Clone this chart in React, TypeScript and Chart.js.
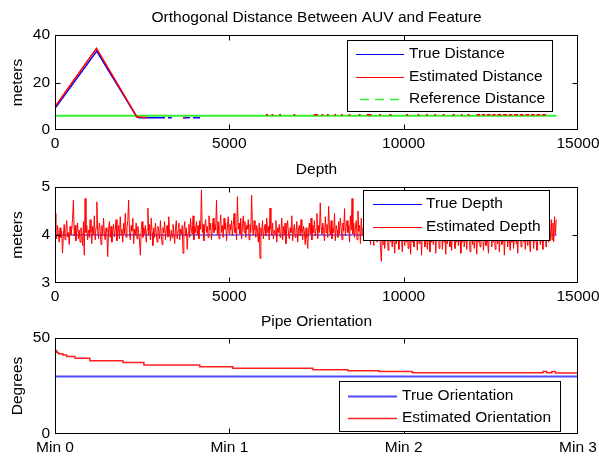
import React, { useEffect, useRef } from "react";
import { Chart, registerables } from "chart.js";

Chart.register(...registerables);

const FONT = '"Liberation Sans", Arial, Helvetica, sans-serif';
const FS = 15.5;

// ---------- Orthogonal Distance Between AUV and Feature ----------
const distanceXTicks = [0, 5000, 10000, 15000];
const distanceYTicks = [0, 20, 40];

const trueDistanceX = [0, 300, 600, 900, 1196, 1500, 1800, 2100, 2343, 2400, 3155, 3200, 3240, 3350, 3400, 3670, 3870, 3900, 3960, 4160];
const trueDistanceY = [9.1, 15.1, 21.2, 27.2, 33.2, 25.9, 18.7, 11.4, 5.6, 5.2, 5.2, null, 5.2, 5.2, null, 5.2, 5.2, null, 5.2, 5.2];

const estDistanceX = [
  0, 300, 600, 900, 1190, 1500, 1800, 2100, 2343, 2630, 2640,
  3670, 3740, 3750,
  6050, 6110, 6120,
  6210, 6260, 6270,
  6430, 6480, 6490,
  6840, 6890, 6900,
  7420, 7540, 7550,
  7640, 7690, 7700,
  7800, 7850, 7860,
  8010, 8060, 8070,
  8200, 8250, 8260,
  8420, 8470, 8480,
  8710, 8760, 8770,
  8940, 9080, 9090,
  9300, 9350, 9360,
  9590, 9650, 9660,
  10070, 10130, 10140,
  10400, 10450, 10460,
  10640, 10690, 10700,
  10880, 10930, 10940,
  11120, 11170, 11180,
  11400, 11460, 11470,
  11640, 11690, 11700,
  11830, 11890, 11900,
  12090, 12190, 12200,
  12240, 12340, 12350,
  12390, 12490, 12500,
  12540, 12640, 12650,
  12690, 12800, 12810,
  12850, 12960, 12970,
  13010, 13120, 13130,
  13170, 13280, 13290,
  13330, 13440, 13450,
  13490, 13600, 13610,
  13650, 13760, 13770,
  13810, 13920, 13930,
  13970, 14080, 14090,
  14130, 14240, 14250,
  14280, 14380,
];
const estDistanceY = [
  9.8, 16.0, 22.2, 28.4, 34.4, 26.7, 19.2, 11.7, 5.6, 5.2, null,
  5.2, 5.2, null,
  6.4, 6.4, null,
  6.4, 6.4, null,
  6.4, 6.4, null,
  6.4, 6.4, null,
  6.4, 6.4, null,
  6.4, 6.4, null,
  6.4, 6.4, null,
  6.4, 6.4, null,
  6.4, 6.4, null,
  6.4, 6.4, null,
  6.4, 6.4, null,
  6.4, 6.4, null,
  6.4, 6.4, null,
  6.4, 6.4, null,
  6.4, 6.4, null,
  6.4, 6.4, null,
  6.4, 6.4, null,
  6.4, 6.4, null,
  6.4, 6.4, null,
  6.4, 6.4, null,
  6.4, 6.4, null,
  6.4, 6.4, null,
  6.4, 6.4, null,
  6.4, 6.4, null,
  6.4, 6.4, null,
  6.4, 6.4, null,
  6.4, 6.4, null,
  6.4, 6.4, null,
  6.4, 6.4, null,
  6.4, 6.4, null,
  6.4, 6.4, null,
  6.4, 6.4, null,
  6.4, 6.4, null,
  6.4, 6.4, null,
  6.4, 6.4,
];

const refDistanceX = [0, 14385];
const refDistanceY = [6, 6];

// ---------- Depth ----------
const depthXTicks = [0, 5000, 10000, 15000];
const depthYTicks = [3, 4, 5];
const depthSampleStep = 24;
const trueDepthX = [0, 14385];
const trueDepthY = [4, 4];
const estDepthY = [
  4.45, 4.1, 3.92, 4.2, 4.02, 3.85, 4.15, 3.95, 4.08, 3.62,
  4.0, 4.22, 3.9, 4.1, 4.3, 3.96, 4.05, 3.8, 4.18, 4.0,
  4.12, 4.35, 4.73, 3.98, 4.2, 3.88, 4.08, 4.25, 3.92, 4.1,
  3.85, 4.15, 4.02, 3.78, 4.28, 3.58, 4.76, 4.05, 4.2, 3.9,
  4.1, 3.95, 4.32, 4.05, 3.82, 4.18, 4.0, 4.4, 3.9, 4.15,
  4.69, 4.08, 3.92, 4.25, 4.1, 3.8, 4.2, 3.98, 4.35, 4.02,
  3.9, 4.15, 4.05, 3.55, 4.12, 4.28, 3.95, 4.18, 3.85, 4.08,
  4.22, 3.96, 4.1, 4.32, 3.88, 4.05, 4.2, 3.92, 4.38, 4.0,
  4.12, 3.85, 4.25, 4.02, 4.45, 3.95, 4.15, 4.3, 4.73, 4.05,
  3.9, 4.2, 4.08, 4.35, 3.82, 4.12, 4.0, 4.25, 3.92, 4.18,
  4.05, 3.88, 3.58, 4.1, 4.28, 3.95, 4.15, 4.02, 4.2, 3.85,
  4.12, 4.56, 4.0, 4.22, 3.9, 4.35, 4.05, 3.78, 4.15, 3.95,
  4.25, 4.02, 3.85, 4.18, 4.08, 3.92, 4.3, 4.0, 3.8, 4.15,
  4.05, 4.28, 3.9, 4.12, 4.2, 3.96, 4.38, 4.02, 3.88, 4.1,
  3.95, 4.22, 4.05, 3.82, 4.15, 4.3, 3.92, 4.08, 4.25, 3.9,
  4.12, 4.02, 4.2, 3.62, 4.1, 4.28, 3.98, 4.15, 3.7, 4.05,
  4.22, 3.95, 4.35, 4.1, 4.02, 4.4, 3.9, 4.18, 4.05, 4.28,
  4.0, 4.2, 3.92, 4.3, 4.12, 4.94, 4.05, 4.22, 3.88, 4.15,
  4.32, 4.05, 4.18, 3.95, 4.4, 4.1, 4.25, 3.9, 4.15, 4.35,
  4.05, 4.22, 4.1, 4.73, 4.0, 4.28, 3.92, 4.18, 4.42, 4.05,
  4.2, 3.95, 4.35, 4.12, 4.25, 3.88, 4.15, 4.38, 4.02, 4.22,
  4.1, 4.3, 3.98, 4.2, 4.45, 4.05, 4.15, 3.9, 4.8, 4.12,
  4.25, 4.02, 4.35, 3.92, 4.18, 4.4, 4.05, 4.28, 3.95, 4.2,
  4.12, 4.32, 3.9, 4.22, 4.05, 4.83, 4.15, 4.0, 4.3, 4.1,
  3.95, 4.2, 4.08, 3.85, 4.25, 3.51, 4.15, 4.02, 4.3, 3.92,
  4.1, 4.22, 3.98, 4.35, 4.05, 4.18, 3.9, 4.56, 4.12, 4.0,
  4.25, 3.92, 4.1, 4.02, 4.3, 3.85, 4.15, 4.05, 4.22, 3.95,
  4.08, 4.35, 3.9, 4.18, 4.0, 4.25, 3.82, 4.12, 4.3, 4.02,
  3.92, 4.15, 4.05, 4.4, 3.88, 4.1, 4.22, 3.95, 4.05, 4.28,
  3.85, 4.12, 4.2, 3.98, 4.32, 4.05, 3.9, 4.18, 4.08, 3.8,
  4.15, 3.95, 3.72, 4.1, 4.25, 4.02, 4.35, 3.9, 4.2, 4.05,
  4.3, 3.98, 4.12, 4.45, 3.92, 4.2, 4.05, 4.67, 4.15, 4.02,
  4.25, 4.1, 3.88, 4.38, 4.05, 4.22, 3.95, 4.6, 4.12, 4.0,
  4.3, 3.92, 4.15, 4.05, 4.45, 3.88, 4.2, 4.1, 3.95, 4.28,
  4.02, 4.35, 4.15, 3.9, 4.25, 4.08, 4.55, 3.98, 4.18, 4.3,
  4.05, 4.2, 3.85, 4.4, 4.1, 4.76, 4.02, 4.25, 3.95, 4.15,
  4.3, 3.9, 4.5, 4.08, 4.2, 3.82, 4.35, 4.0, 4.15, 3.95,
  4.22, 4.05, 3.88, 4.3, 4.1, 3.92, 4.18, 3.8, 4.12, 4.0,
  4.1, 3.78, 4.22, 3.95, 4.05, 3.85, 4.18, 3.88, 4.1, 3.7,
  3.45, 4.0, 3.8, 4.15, 3.72, 4.05, 3.9, 4.2, 3.68, 3.95,
  4.1, 3.85, 4.02, 3.75, 4.12, 3.9, 3.62, 4.05, 3.82, 4.15,
  3.95, 3.7, 4.08, 3.88, 4.0, 3.65, 4.1, 3.92, 3.78, 4.05,
  3.85, 4.12, 3.72, 3.95, 4.02, 3.6, 4.15, 3.85, 3.98, 3.75,
  4.08, 3.9, 4.05, 3.68, 4.1, 3.82, 3.95, 4.12, 3.58, 4.0,
  3.88, 4.15, 3.75, 3.98, 4.05, 3.7, 4.1, 3.9, 3.65, 4.02,
  3.85, 4.08, 3.8, 3.95, 4.12, 3.62, 4.0, 3.88, 4.15, 3.72,
  3.98, 3.92, 4.05, 3.7, 4.1, 3.85, 3.98, 3.6, 4.08, 3.82,
  4.0, 4.12, 3.75, 3.95, 3.68, 4.05, 3.88, 4.1, 3.72, 3.98,
  3.85, 4.05, 3.78, 4.15, 3.9, 3.62, 4.02, 3.85, 4.1, 3.75,
  3.95, 4.08, 3.7, 4.0, 3.88, 4.12, 3.65, 3.98, 4.05, 3.8,
  4.1, 3.72, 3.95, 4.02, 3.6, 4.08, 3.85, 3.98, 3.75, 4.12,
  3.88, 4.05, 3.68, 3.95, 4.1, 3.78, 4.02, 3.85, 3.62, 4.08,
  3.92, 4.15, 3.75, 4.0, 3.85, 4.1, 3.7, 3.95, 4.05, 3.82,
  4.12, 3.65, 3.98, 4.05, 3.8, 3.92, 4.1, 3.58, 4.0, 3.88,
  4.05, 3.75, 4.12, 3.9, 3.68, 4.02, 3.85, 4.1, 3.72, 3.95,
  4.08, 3.82, 3.98, 3.62, 4.05, 3.9, 4.15, 3.75, 3.95, 4.02,
  3.85, 4.1, 3.7, 4.0, 3.92, 3.78, 4.12, 3.88, 3.65, 4.05,
  3.95, 4.08, 3.72, 3.98, 4.1, 3.85, 3.68, 4.02, 3.9, 4.12,
  3.8, 4.05, 3.95, 3.7, 4.1, 3.88, 4.0, 3.75, 4.15, 3.92,
  3.85, 4.2, 3.88, 4.32, 3.9, 4.25, 3.86, 4.38, 4.0, 4.32,
];

// ---------- Pipe Orientation ----------
const orientXTicks = [0, 1, 2, 3];
const orientTickLabels = ["Min 0", "Min 1", "Min 2", "Min 3"];
const orientYTicks = [0, 50];
const trueOrientX = [0, 3];
const trueOrientY = [30, 30];
const estOrientX = [0, 0.01, 0.02, 0.045, 0.067, 0.115, 0.2, 0.39, 0.51, 0.83, 1.02, 1.48, 1.68, 1.86, 2.05, 2.8, 2.82, 2.85, 2.87, 2.92, 3.0];
const estOrientY = [44.6, 43.5, 42.4, 41.8, 41.1, 40.3, 39.4, 38.1, 37.3, 35.9, 35.0, 34.2, 33.5, 33.0, 32.5, 31.9, 32.5, 31.9, 32.5, 31.8, 31.8];

const pts = (xs: number[], ys: (number | null)[]) => xs.map((x, i) => ({ x, y: ys[i] }));

const matlabAxesPlugin = {
  id: "matlabAxes",
  afterDraw(chart: any, _args: any, opts: any) {
    const { ctx, chartArea: a, scales } = chart;
    const xs = scales.x;
    const ys = scales.y;
    ctx.save();
    ctx.setLineDash([]);
    ctx.strokeStyle = "#000";
    ctx.lineWidth = 1;
    const L = a.left + 0.5, R = a.right - 0.5, T = a.top + 0.5, B = a.bottom - 0.5;
    ctx.beginPath();
    xs.ticks.forEach((t: any) => {
      const p = Math.round(xs.getPixelForValue(t.value)) + 0.5;
      if (p > L + 1 && p < R - 1) {
        ctx.moveTo(p, B);
        ctx.lineTo(p, B - 5);
        ctx.moveTo(p, T);
        ctx.lineTo(p, T + 5);
      }
    });
    ys.ticks.forEach((t: any) => {
      const p = Math.round(ys.getPixelForValue(t.value)) + 0.5;
      if (p > T + 1 && p < B - 1) {
        ctx.moveTo(L, p);
        ctx.lineTo(L + 5, p);
        ctx.moveTo(R, p);
        ctx.lineTo(R - 5, p);
      }
    });
    ctx.stroke();
    ctx.strokeRect(L, T, R - L, B - T);

    const lg = opts && opts.legend;
    if (lg) {
      const [x1, y1, x2, y2] = lg.box;
      ctx.fillStyle = "#fff";
      ctx.fillRect(x1, y1, x2 - x1, y2 - y1);
      ctx.strokeStyle = "#000";
      ctx.lineWidth = 1;
      ctx.strokeRect(x1 + 0.5, y1 + 0.5, x2 - x1 - 1, y2 - y1 - 1);
      ctx.font = `${FS}px ${FONT}`;
      ctx.textBaseline = "middle";
      ctx.textAlign = "left";
      lg.items.forEach((it: any, i: number) => {
        const ds = chart.data.datasets[it.dataset];
        const y = lg.rows[i];
        ctx.strokeStyle = it.color || ds.borderColor;
        ctx.lineWidth = it.width || 1;
        ctx.setLineDash(it.dash || []);
        ctx.beginPath();
        ctx.moveTo(it.x1 != null ? it.x1 : lg.lineX[0], y + 0.5);
        ctx.lineTo(lg.lineX[1], y + 0.5);
        ctx.stroke();
        ctx.setLineDash([]);
        ctx.fillStyle = "#000";
        ctx.fillText(ds.label, lg.textX, y);
      });
    }
    ctx.restore();
  },
};

function buildConfig(o: any) {
  const tickFont = { family: FONT, size: FS };
  return {
    type: "line",
    data: { datasets: o.datasets },
    options: {
      responsive: false,
      animation: false,
      devicePixelRatio: 1,
      layout: { padding: { left: 0, right: 21, top: 0, bottom: 0 } },
      elements: { point: { radius: 0 }, line: { tension: 0 } },
      plugins: {
        legend: { display: false },
        tooltip: { enabled: false },
        title: {
          display: true,
          text: o.title,
          color: "#000",
          font: { family: FONT, size: FS, weight: "normal", lineHeight: 1.2 },
          padding: o.titlePad,
          fullSize: false,
        },
        matlabAxes: { legend: o.legend },
      },
      scales: {
        x: {
          type: "linear",
          min: o.xMin,
          max: o.xMax,
          afterBuildTicks: (s: any) => {
            s.ticks = o.xTicks.map((v: number) => ({ value: v }));
          },
          ticks: {
            color: "#000",
            font: tickFont,
            padding: 4,
            maxRotation: 0,
            autoSkip: false,
            callback: o.xFormat,
          },
          grid: { display: false, drawTicks: false },
          border: { display: false },
          afterFit: (s: any) => {
            s.height = o.xAxisHeight;
            s.paddingLeft = 0;
            s.paddingRight = 0;
          },
        },
        y: {
          type: "linear",
          min: o.yMin,
          max: o.yMax,
          afterBuildTicks: (s: any) => {
            s.ticks = o.yTicks.map((v: number) => ({ value: v }));
          },
          ticks: {
            color: "#000",
            font: tickFont,
            padding: 5,
            autoSkip: false,
            callback: (v: number) => String(v),
          },
          title: {
            display: true,
            text: o.yTitle,
            color: "#000",
            font: { family: FONT, size: FS, lineHeight: 1.2 },
            padding: { top: 8, bottom: 0 },
          },
          grid: { display: false, drawTicks: false },
          border: { display: false },
          afterFit: (s: any) => {
            s.width = 55;
            s.paddingTop = 0;
            s.paddingBottom = 0;
          },
        },
      },
    },
    plugins: [matlabAxesPlugin],
  };
}

function MatlabChart({ top, height, config }: { top: number; height: number; config: any }) {
  const ref = useRef<HTMLCanvasElement>(null);
  useEffect(() => {
    const chart = new Chart(ref.current as HTMLCanvasElement, config);
    return () => chart.destroy();
  }, []);
  return (
    <canvas
      ref={ref}
      width={599}
      height={height}
      style={{ position: "absolute", left: 0, top, width: 599, height, display: "block" }}
    />
  );
}

const distanceConfig = buildConfig({
  title: "Orthogonal Distance Between AUV and Feature",
  titlePad: { top: 8, bottom: 8.4 },
  xMin: 0,
  xMax: 15000,
  xTicks: distanceXTicks,
  xFormat: (v: number) => String(v),
  yMin: 0,
  yMax: 40,
  yTicks: distanceYTicks,
  yTitle: "meters",
  xAxisHeight: 30,
  datasets: [
    { label: "Estimated Distance", data: pts(estDistanceX, estDistanceY), borderColor: "#ff0000", borderWidth: 1.5, spanGaps: false },
    { label: "Reference Distance", data: pts(refDistanceX, refDistanceY), borderColor: "#33ee33", borderWidth: 2 },
    { label: "True Distance", data: pts(trueDistanceX, trueDistanceY), borderColor: "#0000ff", borderWidth: 1.5, spanGaps: false },
  ],
  legend: {
    box: [347, 40, 553, 112],
    lineX: [356, 404],
    textX: 409,
    rows: [54, 77, 99],
    items: [
      { dataset: 2, width: 1 },
      { dataset: 0, width: 1 },
      { dataset: 1, width: 1.5, dash: [9, 6], x1: 360 },
    ],
  },
});

const depthConfig = buildConfig({
  title: "Depth",
  titlePad: { top: 0, bottom: 8.4 },
  xMin: 0,
  xMax: 15000,
  xTicks: depthXTicks,
  xFormat: (v: number) => String(v),
  yMin: 3,
  yMax: 5,
  yTicks: depthYTicks,
  yTitle: "meters",
  xAxisHeight: 27,
  datasets: [
    { label: "Estimated Depth", data: estDepthY.map((y, i) => ({ x: i * depthSampleStep, y })), borderColor: "#ff0000", borderWidth: 1 },
    { label: "True Depth", data: pts(trueDepthX, trueDepthY), borderColor: "#0000ff", borderWidth: 1 },
  ],
  legend: {
    box: [363, 30, 550, 81],
    lineX: [373, 422],
    textX: 426,
    rows: [44, 67],
    items: [{ dataset: 1, width: 1 }, { dataset: 0, width: 1 }],
  },
});

const orientConfig = buildConfig({
  title: "Pipe Orientation",
  titlePad: { top: 2, bottom: 7.4 },
  xMin: 0,
  xMax: 3,
  xTicks: orientXTicks,
  xFormat: (v: number) => orientTickLabels[orientXTicks.indexOf(v)],
  yMin: 0,
  yMax: 50,
  yTicks: orientYTicks,
  yTitle: "Degrees",
  xAxisHeight: 25,
  datasets: [
    { label: "Estimated Orientation", data: pts(estOrientX, estOrientY), borderColor: "#ff2020", borderWidth: 1.5, stepped: "after" },
    { label: "True Orientation", data: pts(trueOrientX, trueOrientY), borderColor: "#4d4dff", borderWidth: 2 },
  ],
  legend: {
    box: [339, 71, 561, 122],
    lineX: [348, 397],
    textX: 402,
    rows: [86, 108],
    items: [{ dataset: 1, width: 2 }, { dataset: 0, width: 1.5 }],
  },
});

export default function App() {
  return (
    <div
      style={{
        position: "fixed",
        left: 0,
        top: 0,
        width: 599,
        height: 459,
        background: "#fff",
        overflow: "hidden",
      }}
    >
      <MatlabChart top={0} height={160} config={distanceConfig} />
      <MatlabChart top={160} height={150} config={depthConfig} />
      <MatlabChart top={310} height={149} config={orientConfig} />
    </div>
  );
}
